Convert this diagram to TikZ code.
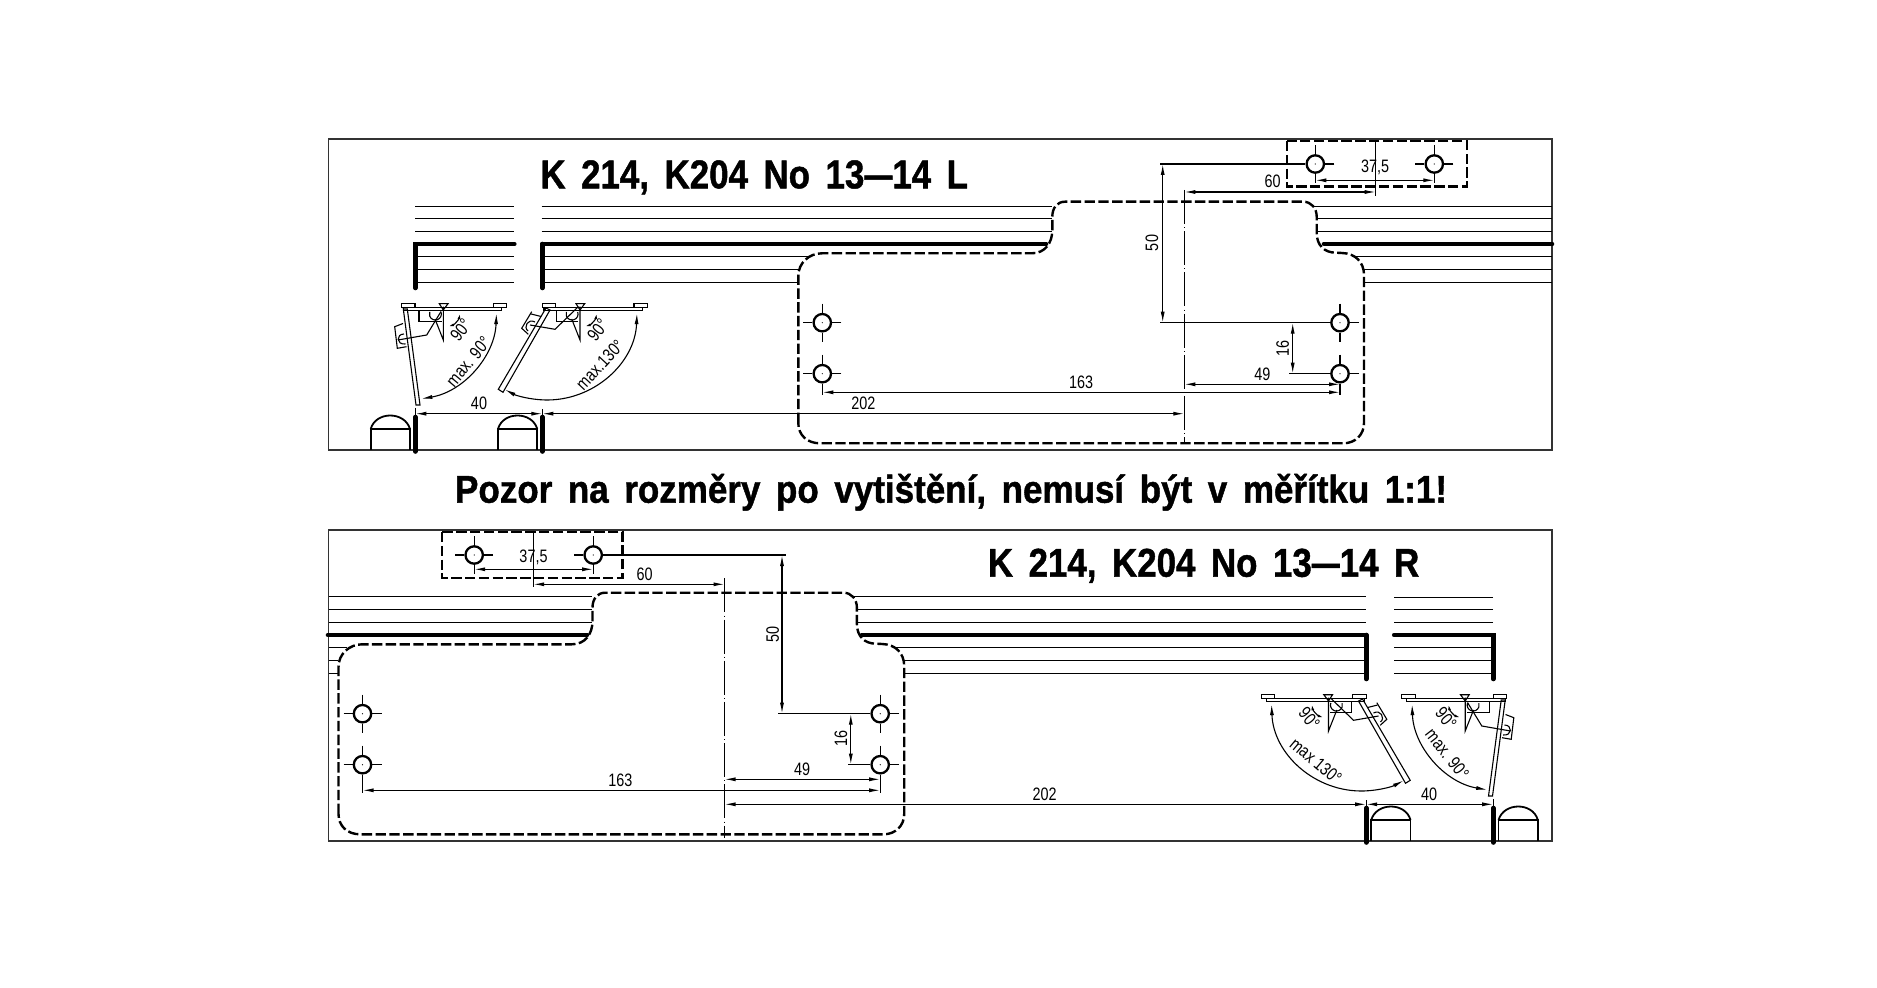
\documentclass[tikz,border=0pt]{standalone}
\usepackage{fontspec}
\usepackage{graphicx}
\usetikzlibrary{arrows.meta,calc}
\setmainfont{Liberation Sans}
\newfontfamily\cadfont[WordSpace=1.6,BoldFeatures={FakeBold=1.2}]{Liberation Sans}
\definecolor{framec}{HTML}{333333}
\newcommand\FitText[3]{\resizebox{#1pt}{#2pt}{\cadfont\bfseries\raisebox{0pt}[0.69em][0pt]{#3}}}
\newcommand\LongDash{\scalebox{.8}[1]{—}}
\newcommand\DimT[1]{\scalebox{.8}[1]{#1}}
\tikzset{
  frameline/.style={draw=framec,line width=.9pt},
  thinl/.style={draw=black,line width=.55pt},
  wall/.style={draw=black,line width=2.3pt,line cap=round},
  dimline/.style={draw=black,line width=.55pt,{Latex[length=5.5pt,width=2pt]}-{Latex[length=5.5pt,width=2pt]}},
  dimshort/.style={draw=black,line width=.55pt,{Latex[length=3pt,width=1.4pt]}-{Latex[length=3pt,width=1.4pt]}},
  dashedpart/.style={draw=black,line width=1.2pt,dash pattern=on 5.2pt off 1.7pt},
  axisl/.style={draw=black,line width=.5pt,dash pattern=on 17pt off 1.6pt on .4pt off 1.6pt},
  holenode/.style={circle,draw=black,line width=1.15pt,minimum size=8.7pt,inner sep=0pt},
  dimtext/.style={inner sep=0pt,font=\fontsize{9}{11}\selectfont},
  titletext/.style={inner sep=0pt,anchor=base west},
  archl/.style={draw=black,line width=.9pt}
}
\newcommand\HoleAt[3]{%
  \node[holenode] (#1) at (#2,#3) {};
  \draw[thinl] ($(#1)+(-19,0)$) -- (#1.west);
  \draw[thinl] ($(#1)+(19,0)$) -- (#1.east);
  \draw[thinl] ($(#1)+(0,-19)$) -- (#1.north);
  \draw[thinl] ($(#1)+(0,19)$) -- (#1.south);
  \fill (#1) circle (.3pt);
}
\newcommand\DimH[4]{%
  \coordinate (#1a) at (#2,#4);
  \coordinate (#1b) at (#3,#4);
  \draw[dimline] (#1a) -- (#1b);
}
\newcommand\DimV[4]{%
  \coordinate (#1a) at (#2,#3);
  \coordinate (#1b) at (#2,#4);
  \draw[dimline] (#1a) -- (#1b);
}
\newcommand\PlateOutline{%
  \draw[dashedpart] (798.3,423) -- (798.3,276)
    .. controls (798.3,263) and (809,253.3) .. (822,253.3)
    -- (1031.7,253.3)
    .. controls (1045,253.3) and (1052.3,243) .. (1052.3,230)
    -- (1052.3,216.7)
    .. controls (1052.3,208) and (1057,201.7) .. (1065,201.7)
    -- (1303.3,201.7)
    .. controls (1311,201.7) and (1316.7,208) .. (1316.7,216.7)
    -- (1316.7,233)
    .. controls (1316.7,245) and (1324,252.7) .. (1336,252.7)
    -- (1342,253)
    .. controls (1355,253.3) and (1364,262) .. (1364,275)
    -- (1364,423)
    .. controls (1364,435) and (1355,443.3) .. (1343.3,443.3)
    -- (820,443.3)
    .. controls (807,443.3) and (798.3,435) .. cycle;
}
\newcommand\ArchAt[1]{%
  \draw[archl] (#1,450) -- (#1,429) -- ({#1+39.3},429) -- ({#1+39.3},450);
  \draw[archl] (#1,429) .. controls ({#1+5},411) and ({#1+34},411) .. ({#1+39.3},429);
}
% door assemblies, drawn in the coordinates of the upper drawing
\newcommand\DoorSet{%
  \foreach \yy in {206.3,218.3,231.3} {\draw[thinl] (415.3,\yy) -- (514.3,\yy);}
  \foreach \yy in {256.3,269.3,282.3} {\draw[thinl] (415.3,\yy) -- (514.3,\yy);}
  \draw[wall] (514.3,244) -- (415.3,244) -- (415.3,288);
  \draw[wall] (415.3,417) -- (415.3,451.5);
  \draw[wall] (542.3,417) -- (542.3,451.5);
  \draw[wall] (542.3,288) -- (542.3,244);
  \draw[thinl] (415.3,408) -- (415.3,415);
  \draw[thinl] (542.3,409) -- (542.3,415);
  \ArchAt{370.7}
  \ArchAt{498}
  % door 1: max 90
  \draw[thinl] (401.7,303.3) rectangle (415,307.7);
  \draw[thinl] (493.3,303.3) rectangle (506.7,307.7);
  \draw[thinl] (403.3,307.7) rectangle (501.7,310.3);
  \draw[thinl] (439.3,303.7) -- (448,303.7) -- (443.3,310) -- cycle;
  \draw[thinl] (403.3,309) -- (407.3,309) -- (420,405) -- (416,405) -- cycle;
  \draw[thinl] (419,310.5) -- (419,321.7) -- (441.7,321.7);
  \draw[thinl] (441,312) arc[start angle=-20,end angle=200,radius=6];
  \draw[thinl] (441,311.5) -- (426.7,335) -- (398,340);
  \draw[thinl] (443.3,306.7) -- (443.3,340) -- (435,319);
  \draw[thinl] (403,323.5) -- (394.7,326.7) -- (397.3,348.3) -- (406.5,346.7);
  \draw[thinl] (404,334) .. controls (396,334) and (396,345) .. (405.5,344);
  \draw[dimshort] (448,326.5) arc[start angle=74,end angle=10,radius=17];
  \draw[dimline] (406.5,310) ++(2:90) arc[start angle=2,end angle=80.5,radius=90];
  % door 2: max 130
  \draw[thinl] (542.4,303.3) rectangle (555.7,307.7);
  \draw[thinl] (634,303.3) rectangle (647.4,307.7);
  \draw[thinl] (544,307.7) rectangle (642.4,310.3);
  \draw[thinl] (576,303.7) -- (584.7,303.7) -- (580,310) -- cycle;
  \draw[thinl] (546,308) -- (550,310) -- (503,392.3) -- (498.3,389.3) -- cycle;
  \draw[thinl] (556.7,310.5) -- (556.7,321.7) -- (578.4,321.7);
  \draw[thinl] (577.7,312) arc[start angle=-20,end angle=200,radius=6];
  \draw[thinl] (578.3,306.7) -- (555,329.3) -- (530,325);
  \draw[thinl] (580,306.7) -- (580,340) -- (571.7,319);
  \draw[thinl] (531.7,311.7) -- (521.7,328.3) -- (528.3,334.3);
  \draw[thinl] (531,314) -- (541,316.5);
  \draw[thinl] (535,322) .. controls (528,318) and (523,327) .. (528,331);
  \draw[dimshort] (584.7,326.5) arc[start angle=74,end angle=10,radius=17];
  \draw[dimline] (547,310) ++(2:90) arc[start angle=2,end angle=118,radius=90];
}
\begin{document}
\begin{tikzpicture}[x=.5pt,y=-.5pt]
\useasboundingbox (0,0) rectangle (1877,988);
\fill[white] (0,0) rectangle (1877,988);
%
% ===== upper drawing =====
\draw[frameline] (328.5,139) rectangle (1552,450);
\foreach \yy in {206.3,218.3,231.3} {\draw[thinl] (541.7,\yy) -- (1052,\yy);}
\draw[thinl] (541.7,256.3) -- (810,256.3);
\draw[thinl] (541.7,269.3) -- (798.3,269.3);
\draw[thinl] (541.7,282.3) -- (798.3,282.3);
\draw[wall] (1046,244) -- (542.3,244);
\draw[thinl] (1313,206.3) -- (1552,206.3);
\draw[thinl] (1316.7,218.3) -- (1552,218.3);
\draw[thinl] (1316.7,231.3) -- (1552,231.3);
\draw[wall] (1324,244) -- (1552,244);
\draw[thinl] (1353,256.3) -- (1552,256.3);
\draw[thinl] (1364,269.3) -- (1552,269.3);
\draw[thinl] (1364,282.3) -- (1552,282.3);
\DoorSet
\PlateOutline
\draw[dashedpart] (1286.7,141) rectangle (1466.7,186.7);
\HoleAt{al1}{822.3}{322.7}
\HoleAt{al2}{822.3}{373.7}
\HoleAt{ar1}{1340}{322.7}
\HoleAt{ar2}{1340}{373.7}
\HoleAt{at1}{1315.3}{164}
\HoleAt{at2}{1434.3}{164}
\coordinate (axAt) at (1184.3,190);
\coordinate (axAb) at (1184.3,441.7);
\draw[axisl] (axAt) -- (axAb);
% extension lines
\coordinate (e50a) at (1160,164);
\coordinate (e50b) at (1160,322.7);
\coordinate (e16b) at (1289,373.7);
\coordinate (e60a) at (1375.7,141);
\coordinate (e60b) at (1375.7,195.7);
\coordinate (eal2) at (822.3,395);
\coordinate (ear2) at (1340,395);
\coordinate (eat1) at (1315.3,183);
\coordinate (eat2) at (1434.3,183);
\draw[thinl] (e50a) -- (at1.west);
\draw[thinl] (e50b) -- (ar1.west);
\draw[thinl] (e16b) -- (ar2.west);
\draw[thinl] (e60a) -- (e60b);
\draw[thinl] (al2.south) -- (eal2);
\draw[thinl] (ar2.south) -- (ear2);
\draw[thinl] (at1.south) -- (eat1);
\draw[thinl] (at2.south) -- (eat2);
% dimensions
\DimV{dA50}{1162.7}{164}{322.7}
\DimV{dA16}{1292.7}{322.7}{373.7}
\DimH{dA60}{1184.3}{1375.7}{192}
\DimH{dA37}{1315.3}{1434.3}{180.3}
\DimH{dA49}{1184.3}{1340}{384.3}
\DimH{dA163}{822.3}{1340}{392.3}
\DimH{dA202}{542.3}{1184.3}{413.7}
\DimH{dA40}{415.3}{542.3}{413.7}
\node[dimtext,rotate=90] (tA50) at (1152,243) {\DimT{50}};
\node[dimtext,rotate=90] (tA16) at (1282.7,348) {\DimT{16}};
\node[dimtext] (tA60) at (1272.7,181.7) {\DimT{60}};
\node[dimtext] (tA37) at (1375,167.7) {\DimT{37,5}};
\node[dimtext] (tA49) at (1262.3,374.3) {\DimT{49}};
\node[dimtext] (tA163) at (1081,382.3) {\DimT{163}};
\node[dimtext] (tA202) at (863.3,403.3) {\DimT{202}};
\node[dimtext] (tA40) at (479,403.3) {\DimT{40}};
\node[dimtext,rotate=52] (tA90a) at (460.7,330) {\DimT{90°}};
\node[dimtext,rotate=52] (tA90b) at (597.7,330) {\DimT{90°}};
\node[dimtext,rotate=50] (tAm90) at (468.3,361.7) {\DimT{max. 90°}};
\node[dimtext,rotate=47] (tAm130) at (600,365) {\DimT{max.130°}};
\node[titletext] (titleA) at (540,188.3) {\FitText{213.8}{13.85}{K 214, K204 No 13\LongDash 14 L}};
%
% ===== notice =====
\node[titletext] (notice) at (454.7,502.7) {\FitText{496}{13.35}{Pozor na rozměry po vytištění, nemusí být v měřítku 1:1!}};
%
% ===== lower drawing =====
\draw[frameline] (328.5,530) rectangle (1552,841);
\foreach \yy in {596.3,609.3,622.3} {\draw[thinl] (328.5,\yy) -- (591.7,\yy);}
\draw[wall] (328,635) -- (587,635);
\draw[thinl] (328.5,647.3) -- (347,647.3);
\draw[thinl] (328.5,660.3) -- (338,660.3);
\draw[thinl] (328.5,673.3) -- (338,673.3);
\draw[thinl] (852,596.3) -- (1366.2,596.3);
\draw[thinl] (856.5,609.3) -- (1366.2,609.3);
\draw[thinl] (856.5,622.3) -- (1366.2,622.3);
\draw[wall] (862,635) -- (1366.2,635);
\draw[thinl] (894,647.3) -- (1366.2,647.3);
\draw[thinl] (903.6,660.3) -- (1366.2,660.3);
\draw[thinl] (903.6,673.3) -- (1366.2,673.3);
\begin{scope}[shift={(1908.5,391)},xscale=-1]
  \DoorSet
\end{scope}
\begin{scope}[shift={(-459.8,391)}]
  \PlateOutline
\end{scope}
\draw[dashedpart] (441.7,532) rectangle (622.3,577.7);
\HoleAt{bl1}{362.5}{713.7}
\HoleAt{bl2}{362.5}{764.7}
\HoleAt{br1}{880.2}{713.7}
\HoleAt{br2}{880.2}{764.7}
\HoleAt{bt1}{474.2}{555}
\HoleAt{bt2}{593.2}{555}
\coordinate (axBt) at (724.5,578.3);
\coordinate (axBb) at (724.5,838.3);
\draw[axisl] (axBt) -- (axBb);
\coordinate (f50a) at (786,555);
\coordinate (f50b) at (778,713.7);
\coordinate (f16b) at (848,764.7);
\coordinate (f60a) at (533.2,532);
\coordinate (f60b) at (533.2,587.3);
\coordinate (fbl2) at (362.5,793.3);
\coordinate (fbr2) at (880.2,793.3);
\coordinate (fbt1) at (474.2,574);
\coordinate (fbt2) at (593.2,574);
\draw[thinl] (bt2.east) -- (f50a);
\draw[thinl] (f50b) -- (br1.west);
\draw[thinl] (f16b) -- (br2.west);
\draw[thinl] (f60a) -- (f60b);
\draw[thinl] (bl2.south) -- (fbl2);
\draw[thinl] (br2.south) -- (fbr2);
\draw[thinl] (bt1.south) -- (fbt1);
\draw[thinl] (bt2.south) -- (fbt2);
\DimV{dB50}{782}{555}{713.7}
\DimV{dB16}{850.8}{713.7}{764.7}
\DimH{dB60}{533.2}{724.5}{584.3}
\DimH{dB37}{474.2}{593.2}{569.3}
\DimH{dB49}{724.5}{880.2}{779.3}
\DimH{dB163}{362.5}{880.2}{790.3}
\DimH{dB202}{724.5}{1366.2}{804.3}
\DimH{dB40}{1366.2}{1493.2}{804.3}
\node[dimtext,rotate=90] (tB50) at (772.7,634.3) {\DimT{50}};
\node[dimtext,rotate=90] (tB16) at (841,738.3) {\DimT{16}};
\node[dimtext] (tB60) at (644.5,574.3) {\DimT{60}};
\node[dimtext] (tB37) at (533.5,557.3) {\DimT{37,5}};
\node[dimtext] (tB49) at (802,769.3) {\DimT{49}};
\node[dimtext] (tB163) at (620.4,780) {\DimT{163}};
\node[dimtext] (tB202) at (1044.7,794.3) {\DimT{202}};
\node[dimtext] (tB40) at (1429,794) {\DimT{40}};
\node[dimtext,rotate=-50] (tB90a) at (1309.3,718.3) {\DimT{90°}};
\node[dimtext,rotate=-50] (tB90b) at (1446,718.3) {\DimT{90°}};
\node[dimtext,rotate=-40] (tBm130) at (1316,761) {\DimT{max 130°}};
\node[dimtext,rotate=-52] (tBm90) at (1447.3,754) {\DimT{max. 90°}};
\node[titletext] (titleB) at (987.5,576.7) {\FitText{215.7}{13.85}{K 214, K204 No 13\LongDash 14 R}};
\end{tikzpicture}
\end{document}
